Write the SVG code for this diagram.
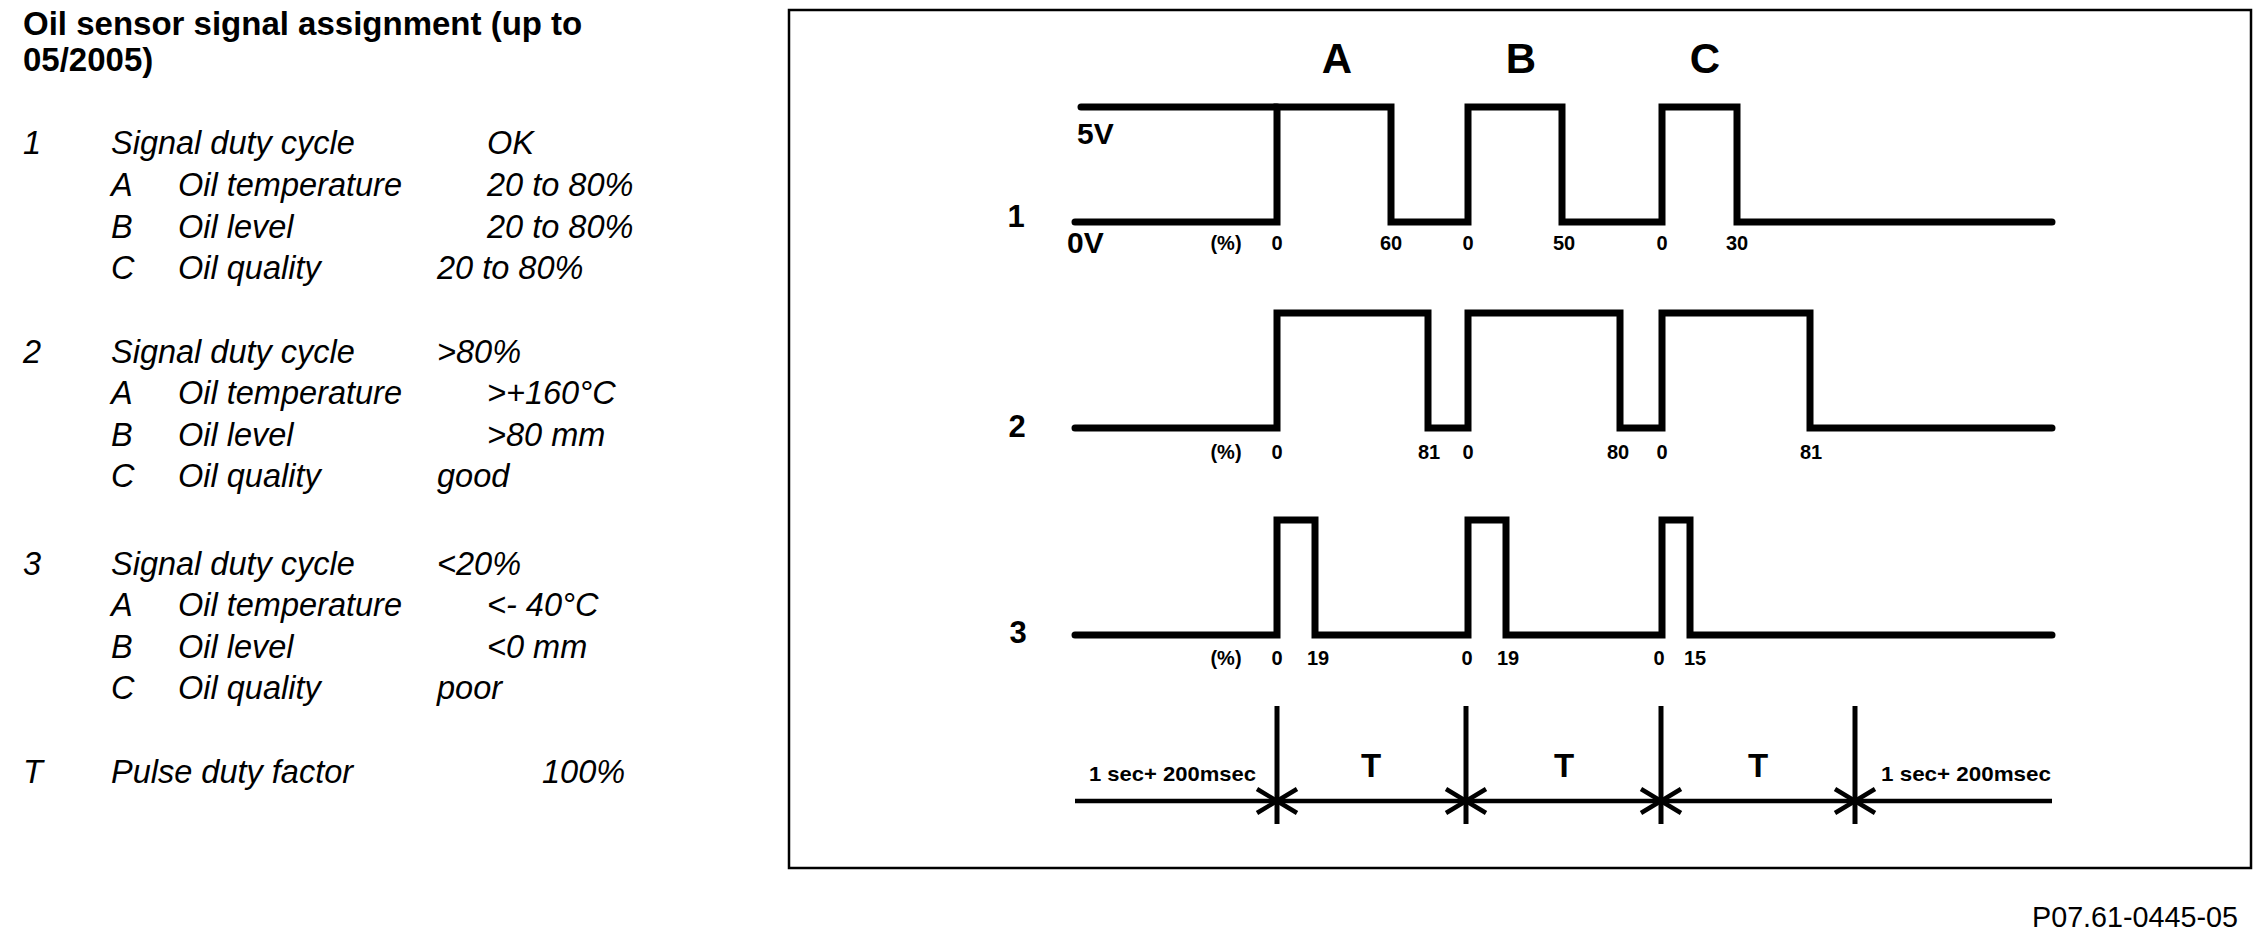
<svg xmlns="http://www.w3.org/2000/svg" width="2264" height="936" viewBox="0 0 2264 936">
<defs>
<style>
.title{font-family:"Liberation Sans",Arial,sans-serif;font-weight:bold;font-size:33px;fill:#000}
.it{font-family:"Liberation Sans",Arial,sans-serif;font-style:italic;font-size:32.5px;fill:#000}
.wave{fill:none;stroke:#000;stroke-width:7;stroke-linejoin:miter;stroke-linecap:round}
.big{font-family:"Liberation Sans",Arial,sans-serif;font-weight:bold;font-size:42px;fill:#000;text-anchor:middle}
.num{font-family:"Liberation Sans",Arial,sans-serif;font-weight:bold;font-size:31px;fill:#000;text-anchor:middle}
.volt{font-family:"Liberation Sans",Arial,sans-serif;font-weight:bold;font-size:30px;fill:#000}
.tick{font-family:"Liberation Sans",Arial,sans-serif;font-weight:bold;font-size:20px;fill:#000;text-anchor:middle}
.tl{fill:none;stroke:#000;stroke-width:4.5}
.vl{fill:none;stroke:#000;stroke-width:5}
.T{font-family:"Liberation Sans",Arial,sans-serif;font-weight:bold;font-size:33px;fill:#000;text-anchor:middle}
.sec{font-family:"Liberation Sans",Arial,sans-serif;font-weight:bold;font-size:21px;fill:#000}
.ref{font-family:"Liberation Sans",Arial,sans-serif;font-size:29px;fill:#000}
</style>
<marker id="arr" markerUnits="userSpaceOnUse" markerWidth="30" markerHeight="30" viewBox="-24 -15 28 30" refX="0" refY="0" orient="auto-start-reverse">
<path d="M-20,-12 L0,0 L-20,12" fill="none" stroke="#000" stroke-width="4.5"/>
</marker>
</defs>
<rect width="2264" height="936" fill="#fff"/>

<g id="legend">
<text class="title" x="23" y="35">Oil sensor signal assignment (up to</text>
<text class="title" x="23" y="71">05/2005)</text>

<text class="it" x="23" y="154">1</text>
<text class="it" x="111" y="154">Signal duty cycle</text>
<text class="it" x="487" y="154">OK</text>
<text class="it" x="111" y="196">A</text>
<text class="it" x="178" y="196">Oil temperature</text>
<text class="it" x="487" y="196">20 to 80%</text>
<text class="it" x="111" y="238">B</text>
<text class="it" x="178" y="238">Oil level</text>
<text class="it" x="487" y="238">20 to 80%</text>
<text class="it" x="111" y="279">C</text>
<text class="it" x="178" y="279">Oil quality</text>
<text class="it" x="437" y="279">20 to 80%</text>

<text class="it" x="23" y="363">2</text>
<text class="it" x="111" y="363">Signal duty cycle</text>
<text class="it" x="437" y="363">&gt;80%</text>
<text class="it" x="111" y="404">A</text>
<text class="it" x="178" y="404">Oil temperature</text>
<text class="it" x="487" y="404">&gt;+160°C</text>
<text class="it" x="111" y="446">B</text>
<text class="it" x="178" y="446">Oil level</text>
<text class="it" x="487" y="446">&gt;80 mm</text>
<text class="it" x="111" y="487">C</text>
<text class="it" x="178" y="487">Oil quality</text>
<text class="it" x="437" y="487">good</text>

<text class="it" x="23" y="575">3</text>
<text class="it" x="111" y="575">Signal duty cycle</text>
<text class="it" x="437" y="575">&lt;20%</text>
<text class="it" x="111" y="616">A</text>
<text class="it" x="178" y="616">Oil temperature</text>
<text class="it" x="487" y="616">&lt;- 40°C</text>
<text class="it" x="111" y="658">B</text>
<text class="it" x="178" y="658">Oil level</text>
<text class="it" x="487" y="658">&lt;0 mm</text>
<text class="it" x="111" y="699">C</text>
<text class="it" x="178" y="699">Oil quality</text>
<text class="it" x="437" y="699">poor</text>

<text class="it" x="23" y="783">T</text>
<text class="it" x="111" y="783">Pulse duty factor</text>
<text class="it" x="542" y="783">100%</text>
</g>

<g id="frame">
<rect x="789" y="10" width="1462" height="858" fill="none" stroke="#000" stroke-width="2.5"/>
</g>

<g id="headers">
<text class="big" x="1337" y="73">A</text>
<text class="big" x="1521" y="73">B</text>
<text class="big" x="1705" y="73">C</text>
</g>

<g id="signal1">
<text class="num" x="1016" y="227">1</text>
<text class="volt" x="1077" y="144">5V</text>
<text class="volt" x="1067" y="253">0V</text>
<path class="wave" d="M1081,107 H1277"/>
<path class="wave" d="M1075,222 H1277 V107 H1391 V222 H1468 V107 H1562 V222 H1662 V107 H1737 V222 H2052"/>
<text class="tick" x="1226" y="250">(%)</text>
<text class="tick" x="1277" y="250">0</text>
<text class="tick" x="1391" y="250">60</text>
<text class="tick" x="1468" y="250">0</text>
<text class="tick" x="1564" y="250">50</text>
<text class="tick" x="1662" y="250">0</text>
<text class="tick" x="1737" y="250">30</text>
</g>

<g id="signal2">
<text class="num" x="1017" y="437">2</text>
<path class="wave" d="M1075,428 H1277 V313 H1428 V428 H1468 V313 H1620 V428 H1662 V313 H1810 V428 H2052"/>
<text class="tick" x="1226" y="459">(%)</text>
<text class="tick" x="1277" y="459">0</text>
<text class="tick" x="1429" y="459">81</text>
<text class="tick" x="1468" y="459">0</text>
<text class="tick" x="1618" y="459">80</text>
<text class="tick" x="1662" y="459">0</text>
<text class="tick" x="1811" y="459">81</text>
</g>

<g id="signal3">
<text class="num" x="1018" y="643">3</text>
<path class="wave" d="M1075,635 H1277 V520 H1315 V635 H1468 V520 H1506 V635 H1662 V520 H1690 V635 H2052"/>
<text class="tick" x="1226" y="665">(%)</text>
<text class="tick" x="1277" y="665">0</text>
<text class="tick" x="1318" y="665">19</text>
<text class="tick" x="1467" y="665">0</text>
<text class="tick" x="1508" y="665">19</text>
<text class="tick" x="1659" y="665">0</text>
<text class="tick" x="1695" y="665">15</text>
</g>

<g id="timeline">
<line class="vl" x1="1277" y1="706" x2="1277" y2="824"/>
<line class="vl" x1="1466" y1="706" x2="1466" y2="824"/>
<line class="vl" x1="1661" y1="706" x2="1661" y2="824"/>
<line class="vl" x1="1855" y1="706" x2="1855" y2="824"/>
<line class="tl" x1="1075" y1="801" x2="1277" y2="801" marker-end="url(#arr)"/>
<line class="tl" x1="1277" y1="801" x2="1466" y2="801" marker-start="url(#arr)" marker-end="url(#arr)"/>
<line class="tl" x1="1466" y1="801" x2="1661" y2="801" marker-start="url(#arr)" marker-end="url(#arr)"/>
<line class="tl" x1="1661" y1="801" x2="1855" y2="801" marker-start="url(#arr)" marker-end="url(#arr)"/>
<line class="tl" x1="1855" y1="801" x2="2052" y2="801" marker-start="url(#arr)"/>
<text class="sec" x="1089" y="781" textLength="167" lengthAdjust="spacingAndGlyphs">1 sec+ 200msec</text>
<text class="sec" x="1881" y="781" textLength="170" lengthAdjust="spacingAndGlyphs">1 sec+ 200msec</text>
<text class="T" x="1371" y="777">T</text>
<text class="T" x="1564" y="777">T</text>
<text class="T" x="1758" y="777">T</text>
</g>

<g id="ref">
<text class="ref" x="2032" y="927" textLength="206" lengthAdjust="spacingAndGlyphs">P07.61-0445-05</text>
</g>
</svg>
